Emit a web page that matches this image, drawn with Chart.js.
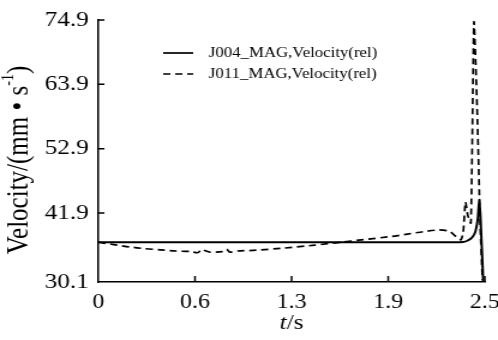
<!DOCTYPE html>
<html>
<head>
<meta charset="utf-8">
<script src="https://cdn.jsdelivr.net/npm/chart.js@4.4.0/dist/chart.umd.min.js"></script>
<style>
  html, body { margin: 0; padding: 0; background: #fff; }
  /* the reference is stretched horizontally, so draw narrow and widen */
  #wrap { width: 415px; height: 340px; transform: scaleX(1.2); transform-origin: 0 0; }
</style>
</head>
<body>
<div id="wrap"><canvas id="chart"></canvas></div>
<script>
// ---- data ----
const seriesNames = ['J004_MAG,Velocity(rel)', 'J011_MAG,Velocity(rel)'];

const timeJ004 = [0, 0.5, 1.0, 1.5, 2.0, 2.3, 2.36, 2.39, 2.42, 2.44, 2.455, 2.465, 2.478, 2.49];
const velJ004  = [36.9, 36.9, 36.9, 36.9, 36.9, 36.9, 36.95, 37.2, 37.8, 38.8, 41.0, 44.2, 37.5, 30.1];

const timeJ011 = [0, 0.1, 0.2, 0.3, 0.4, 0.5, 0.6, 0.64, 0.67, 0.72, 0.8, 0.83, 0.85, 0.9, 1.0, 1.2, 1.4,
                  1.57, 1.7, 1.9, 2.0, 2.1, 2.2, 2.27, 2.32, 2.345, 2.36, 2.375, 2.39, 2.41, 2.43, 2.45, 2.47, 2.485];
const velJ011  = [36.9, 36.5, 36.1, 35.8, 35.6, 35.4, 35.3, 35.1, 35.6, 35.2, 35.3, 35.7, 35.2, 35.4, 35.5, 35.9, 36.4,
                  36.9, 37.3, 37.9, 38.3, 38.7, 39.0, 38.8, 37.7, 37.3, 38.5, 43.8, 41.5, 40.2, 74.6, 60.0, 40.0, 30.4];

const xTickValues = [0, 0.625, 1.25, 1.875, 2.5];
const xTickLabels = ['0', '0.6', '1.3', '1.9', '2.5'];
const yTickValues = [30.1, 41.9, 52.9, 63.9, 74.9];
const yTickLabels = ['30.1', '41.9', '52.9', '63.9', '74.9'];

const serif = '"Liberation Serif", "Times New Roman", serif';

function toPoints(xs, ys) {
    return xs.map((x, i) => ({ x: x, y: ys[i] }));
}

// inward ticks, legend and axis titles
const extras = {
    id: 'extras',
    afterDraw(chart) {
        const ctx = chart.ctx;
        const xs = chart.scales.x, ys = chart.scales.y;
        const area = chart.chartArea;
        ctx.save();
        ctx.strokeStyle = '#000';
        ctx.lineWidth = 1.5;
        ctx.beginPath();
        xTickValues.slice(1).forEach(v => {
            const px = xs.getPixelForValue(v);
            ctx.moveTo(px, area.bottom);
            ctx.lineTo(px, area.bottom - 6);
        });
        yTickValues.slice(1).forEach(v => {
            const py = ys.getPixelForValue(v);
            ctx.moveTo(area.left, py);
            ctx.lineTo(area.left + 5, py);
        });
        ctx.stroke();

        // legend
        ctx.font = '14px ' + serif;
        ctx.fillStyle = '#000';
        ctx.textBaseline = 'middle';
        chart.data.datasets.forEach((ds, i) => {
            const y = 53 + i * 21;
            ctx.beginPath();
            ctx.lineWidth = 1.7;
            ctx.setLineDash(ds.borderDash || []);
            ctx.moveTo(136, y);
            ctx.lineTo(161, y);
            ctx.stroke();
            ctx.setLineDash([]);
            ctx.fillText(ds.label, 174, y);
        });

        // y title with superscript
        ctx.save();
        ctx.translate(16, 160);
        ctx.rotate(-Math.PI / 2);
        const main = 'Velocity/(mm \u2022 s';
        ctx.font = '25px ' + serif;
        const w1 = ctx.measureText(main).width;
        ctx.font = '14px ' + serif;
        const w2 = ctx.measureText('-1').width;
        ctx.font = '25px ' + serif;
        const w3 = ctx.measureText(')').width;
        const x0 = -(w1 + w2 + w3) / 2;
        ctx.textAlign = 'left';
        ctx.fillText(main, x0, 0);
        ctx.font = '14px ' + serif;
        ctx.fillText('-1', x0 + w1, -9);
        ctx.font = '25px ' + serif;
        ctx.fillText(')', x0 + w1 + w2, 0);
        ctx.restore();

        // x title: italic t
        ctx.font = 'italic 21px ' + serif;
        const tw = ctx.measureText('t').width;
        ctx.font = '21px ' + serif;
        const sw = ctx.measureText('/s').width;
        const cx = (area.left + area.right) / 2;
        const sx = cx - (tw + sw) / 2;
        ctx.textAlign = 'left';
        ctx.font = 'italic 21px ' + serif;
        ctx.fillText('t', sx, 323);
        ctx.font = '21px ' + serif;
        ctx.fillText('/s', sx + tw, 323);
        ctx.restore();
    }
};

new Chart(document.getElementById('chart'), {
    type: 'line',
    data: {
        datasets: [
            {
                label: seriesNames[0],
                data: toPoints(timeJ004, velJ004),
                borderColor: '#000',
                borderWidth: 2,
                pointRadius: 0,
                cubicInterpolationMode: 'monotone',
                fill: false
            },
            {
                label: seriesNames[1],
                data: toPoints(timeJ011, velJ011),
                borderColor: '#000',
                borderWidth: 1.7,
                borderDash: [6, 4],
                pointRadius: 0,
                tension: 0.2,
                fill: false
            }
        ]
    },
    options: {
        responsive: true,
        maintainAspectRatio: false,
        animation: false,
        layout: { padding: { left: 0, right: 11, top: 20, bottom: 0 } },
        plugins: {
            legend: { display: false },
            tooltip: { enabled: false }
        },
        scales: {
            x: {
                type: 'linear',
                min: 0,
                max: 2.5,
                afterBuildTicks: s => { s.ticks = xTickValues.map(v => ({ value: v })); },
                afterFit: s => { s.height = 58; s.paddingLeft = 0; s.paddingRight = 0; },
                grid: { display: false, drawTicks: false },
                border: { display: true, color: '#000', width: 1.5 },
                ticks: {
                    color: '#000',
                    padding: 9,
                    maxRotation: 0,
                    font: { family: serif, size: 20 },
                    callback: (v, i) => xTickLabels[i]
                }
            },
            y: {
                min: 30.1,
                max: 74.9,
                afterBuildTicks: s => { s.ticks = yTickValues.map(v => ({ value: v })); },
                afterFit: s => { s.width = 82; s.paddingTop = 0; s.paddingBottom = 0; },
                grid: { display: false, drawTicks: false },
                border: { display: true, color: '#000', width: 1.5 },
                ticks: {
                    color: '#000',
                    padding: 8,
                    font: { family: serif, size: 21 },
                    callback: (v, i) => yTickLabels[i]
                }
            }
        }
    },
    plugins: [extras]
});
</script>
</body>
</html>
